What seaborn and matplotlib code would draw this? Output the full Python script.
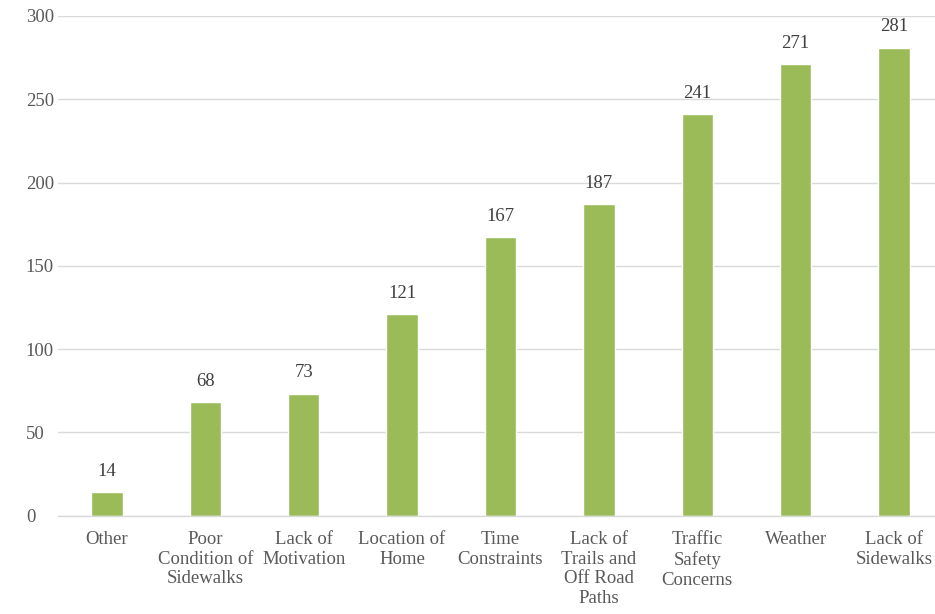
import pandas as pd
import seaborn as sns
from matplotlib import pyplot as plt

categories = ["Other", "Poor\nCondition of\nSidewalks", "Lack of\nMotivation",
              "Location of\nHome", "Time\nConstraints", "Lack of\nTrails and\nOff Road\nPaths",
              "Traffic\nSafety\nConcerns", "Weather", "Lack of\nSidewalks"]
counts = [14, 68, 73, 121, 167, 187, 241, 271, 281]
y_ticks = [0, 50, 100, 150, 200, 250, 300]

df = pd.DataFrame({"barrier": categories, "count": counts})

sns.set_theme(style="white")
plt.rcParams['font.family'] = ['Liberation Serif', 'DejaVu Serif']

fig = plt.figure(figsize=(9.35, 6.14), dpi=100)
ax = fig.add_axes([57.8 / 935, 98.5 / 614, 885.4 / 935, 499.5 / 614])

sns.barplot(data=df, x="barrier", y="count", color="#9BBB59", saturation=1,
            width=0.32, ax=ax)

ax.set_ylim(0, 300)
ax.set_xlim(-0.5, 8.5)
ax.set_yticks(y_ticks)
ax.set_yticklabels([str(t) for t in y_ticks])
ax.yaxis.grid(True, color="#d9d9d9", linewidth=1)
ax.set_axisbelow(True)
for side in ["top", "right", "left"]:
    ax.spines[side].set_visible(False)
ax.spines["bottom"].set_color("#d9d9d9")
ax.spines["bottom"].set_linewidth(1)

ax.tick_params(axis="both", length=0, labelsize=13.5, labelcolor="#595959")
ax.tick_params(axis="x", pad=11)
ax.tick_params(axis="y", pad=23)
for lbl in ax.get_xticklabels():
    lbl.set_linespacing(1.22)
for lbl in ax.get_yticklabels():
    lbl.set_horizontalalignment("left")

ax.set_xlabel("")
ax.set_ylabel("")

for container in ax.containers:
    ax.bar_label(container, padding=9, fontsize=13.5, color="#404040")

fig.savefig("out.png", dpi=100)
plt.close(fig)
